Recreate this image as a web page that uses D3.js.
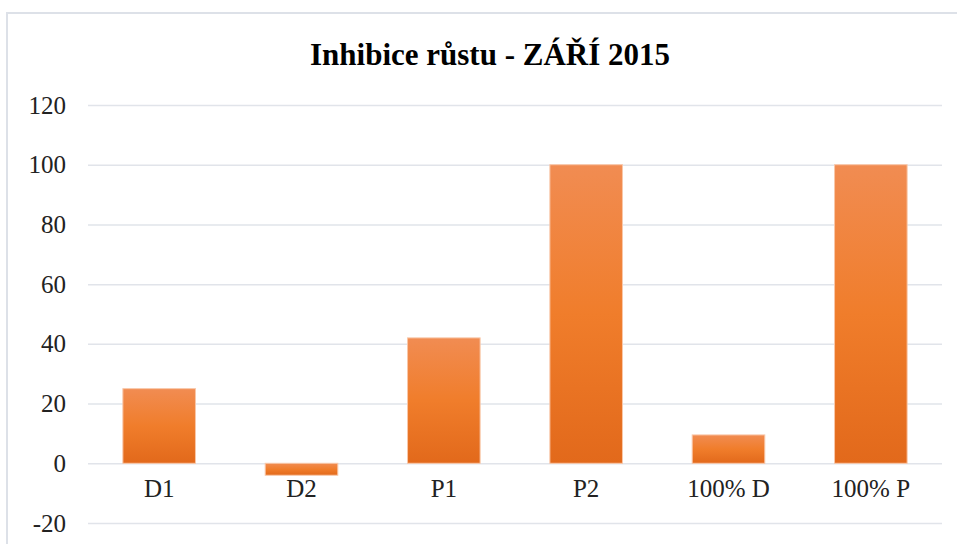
<!DOCTYPE html>
<html>
<head>
<meta charset="utf-8">
<script src="https://cdn.jsdelivr.net/npm/d3@7"></script>
<style>
  body { margin: 0; background: #fff; }
  svg { display: block; }
</style>
</head>
<body>
<div id="chart"></div>
<script>
var categories = ["D1", "D2", "P1", "P2", "100% D", "100% P"];
var values = [25, -4, 42, 100, 9.5, 100];
var yTicks = [-20, 0, 20, 40, 60, 80, 100, 120];
var chartTitle = "Inhibice růstu - ZÁŘÍ 2015";

var W = 957, H = 544;
var margin = {top: 105, right: 15, bottom: 21, left: 88};
var serif = '"Liberation Serif", "Times New Roman", Times, "DejaVu Serif", serif';

var svg = d3.select("#chart").append("svg")
    .attr("width", W)
    .attr("height", H);

// outer frame, cut off at right and bottom
svg.append("rect")
    .attr("x", 7).attr("y", 13)
    .attr("width", W + 20).attr("height", H + 20)
    .style("fill", "#fff")
    .style("stroke", "#dde1e8")
    .style("stroke-width", 2);

var defs = svg.append("defs");
var grad = defs.append("linearGradient")
    .attr("id", "barGrad")
    .attr("x1", 0).attr("y1", 0).attr("x2", 0).attr("y2", 1);
grad.append("stop").attr("offset", "0%").attr("stop-color", "#f18c52");
grad.append("stop").attr("offset", "50%").attr("stop-color", "#f07d2b");
grad.append("stop").attr("offset", "100%").attr("stop-color", "#e2691b");

var x = d3.scaleBand()
    .domain(categories)
    .range([margin.left, W - margin.right])
    .paddingInner(0.49)
    .paddingOuter(0.245);

var y = d3.scaleLinear()
    .domain([-20, 120])
    .range([H - margin.bottom, margin.top]);

svg.append("text")
    .text(chartTitle)
    .attr("x", 490)
    .attr("y", 65)
    .attr("text-anchor", "middle")
    .style("font-family", serif)
    .style("font-weight", "bold")
    .style("font-size", "31px")
    .style("fill", "#000");

// gridlines
svg.append("g")
    .selectAll("line")
    .data(yTicks)
    .enter()
    .append("line")
        .attr("x1", margin.left)
        .attr("x2", W - margin.right)
        .attr("y1", function(d) { return y(d) + 0.5; })
        .attr("y2", function(d) { return y(d) + 0.5; })
        .style("stroke", "#e1e4ea")
        .style("stroke-width", 1.5);

// y axis labels
var yAxis = svg.append("g")
    .attr("transform", "translate(66,0)")
    .call(d3.axisLeft(y).tickValues(yTicks).tickSize(0).tickPadding(0)
        .tickFormat(function(d) { return String(d); }));
yAxis.select(".domain").remove();
yAxis.selectAll("text")
    .style("font-family", serif)
    .style("font-size", "25px")
    .style("fill", "#222");

// bars
svg.selectAll("rect.bar")
    .data(values)
    .enter()
    .append("rect")
        .attr("class", "bar")
        .attr("x", function(d, i) { return x(categories[i]); })
        .attr("y", function(d) { return y(Math.max(0, d)); })
        .attr("width", x.bandwidth())
        .attr("height", function(d) { return Math.abs(y(d) - y(0)); })
        .style("fill", "url(#barGrad)")
        .style("stroke", "#f9c7a8")
        .style("stroke-width", 1);

// category labels
var xAxis = svg.append("g")
    .attr("transform", "translate(0," + (y(0) + 16) + ")")
    .call(d3.axisBottom(x).tickSize(0).tickPadding(0));
xAxis.select(".domain").remove();
xAxis.selectAll("text")
    .attr("dy", "0.71em")
    .style("font-family", serif)
    .style("font-size", "25px")
    .style("fill", "#222");
</script>
</body>
</html>
